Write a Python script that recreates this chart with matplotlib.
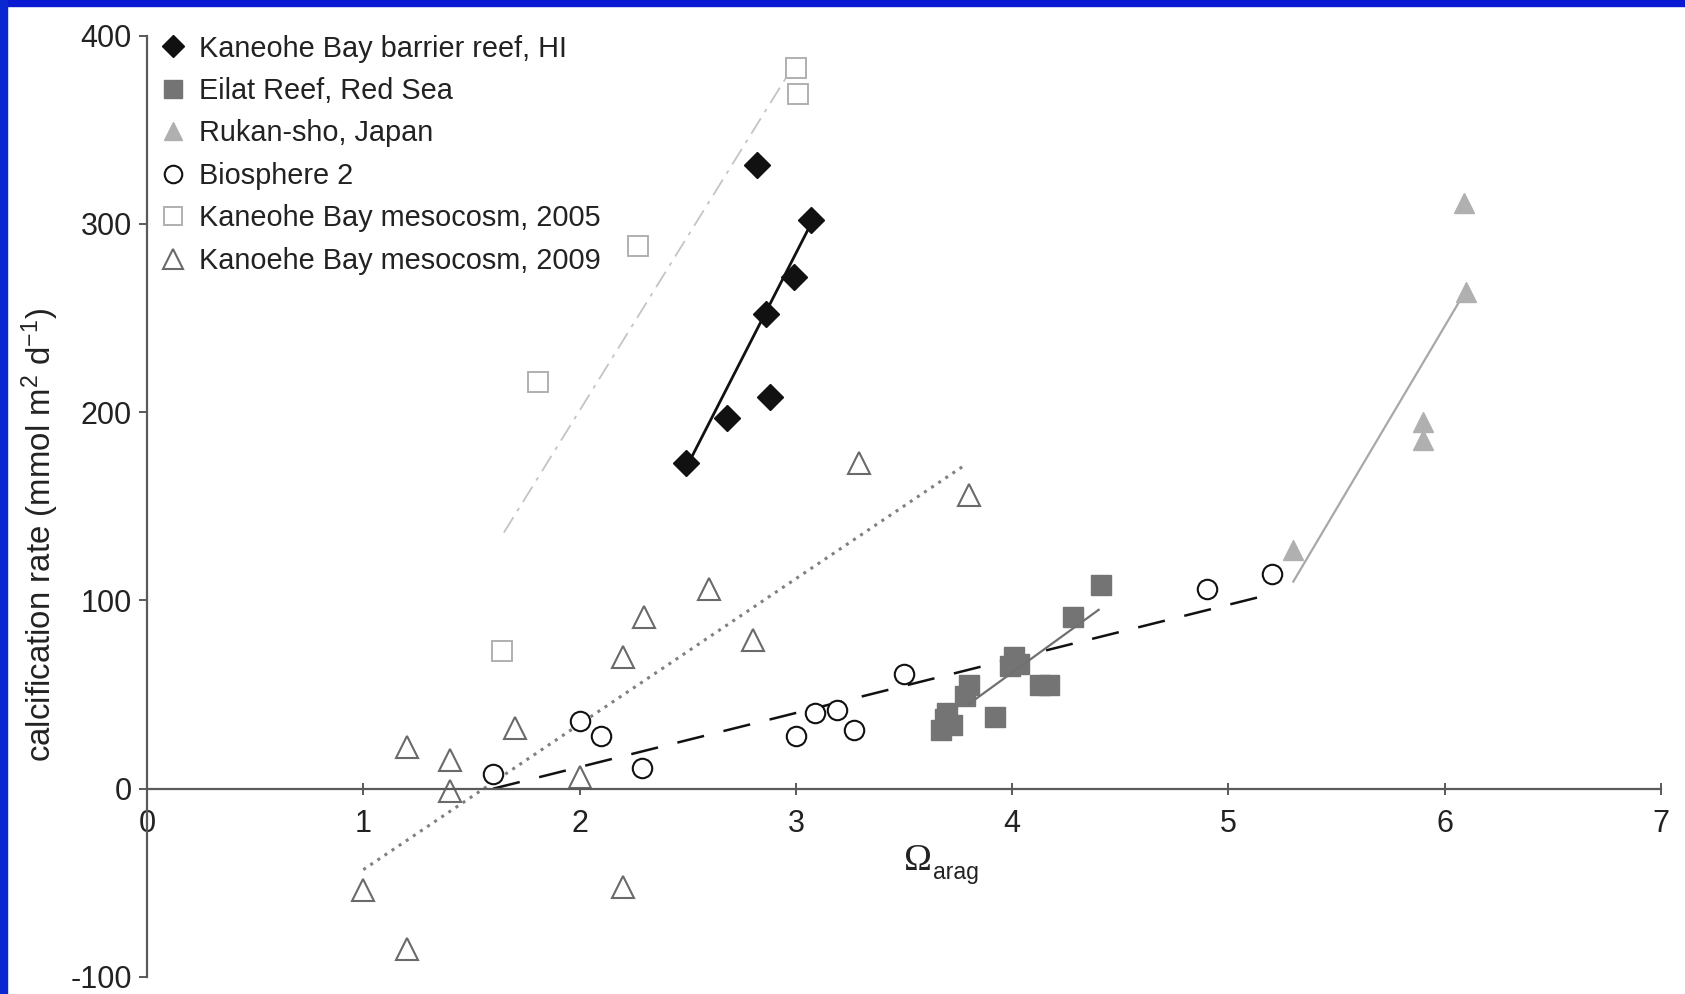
import matplotlib
matplotlib.use("Agg")
import matplotlib.pyplot as plt
from matplotlib.patches import Rectangle

plt.rcParams['font.family'] = ['Liberation Sans', 'DejaVu Sans']
plt.rcParams['mathtext.fontset'] = 'custom'
plt.rcParams['mathtext.rm'] = 'Liberation Sans'
plt.rcParams['mathtext.it'] = 'Liberation Sans:italic'
plt.rcParams['axes.unicode_minus'] = False

# ---- data ----
reef_x = [2.49, 2.68, 2.82, 2.86, 2.88, 2.99, 3.07]
reef_y = [173, 197, 331, 252, 208, 272, 302]
reef_fit_x = [2.50, 3.07]
reef_fit_y = [172, 300]

eilat_x = [3.67, 3.69, 3.70, 3.72, 3.78, 3.80, 3.92, 3.99, 4.01, 4.03, 4.13, 4.17, 4.28, 4.41]
eilat_y = [31, 37, 40, 34, 49, 55, 38, 65, 70, 66, 55, 55, 91, 108]
eilat_fit_x = [3.80, 4.40]
eilat_fit_y = [45, 95]

rukan_x = [5.30, 5.90, 5.90, 6.09, 6.10]
rukan_y = [127, 195, 185, 311, 264]
rukan_fit_x = [5.30, 6.10]
rukan_fit_y = [110, 265]

bio_x = [1.60, 2.00, 2.10, 2.29, 3.00, 3.09, 3.19, 3.27, 3.50, 4.90, 5.20]
bio_y = [8, 36, 28, 11, 28, 40, 42, 31, 61, 106, 114]
bio_fit_x = [1.60, 5.22]
bio_fit_y = [0, 104]

meso05_x = [1.64, 1.81, 2.27, 3.00, 3.01]
meso05_y = [73, 216, 288, 383, 369]
meso05_fit_x = [1.65, 3.00]
meso05_fit_y = [136, 386]

meso09_x = [1.00, 1.20, 1.20, 1.40, 1.40, 1.70, 2.00, 2.20, 2.20, 2.30, 2.60, 2.80, 3.29, 3.80]
meso09_y = [-54, -85, 22, 15, -1, 32, 6, 70, -52, 91, 106, 79, 173, 156]
meso09_fit_x = [1.00, 3.77]
meso09_fit_y = [-43, 171]

labels = ["Kaneohe Bay barrier reef, HI", "Eilat Reef, Red Sea", "Rukan-sho, Japan",
          "Biosphere 2", "Kaneohe Bay mesocosm, 2005", "Kanoehe Bay mesocosm, 2009"]
xticks = [0, 1, 2, 3, 4, 5, 6, 7]
yticks = [-100, 0, 100, 200, 300, 400]

# ---- figure ----
W, H = 1685, 994
fig = plt.figure(figsize=(W / 100, H / 100), dpi=100)
fig.patch.set_facecolor('white')
left, right, top, bottom = 147, 1661, 35.5, 977
ax = fig.add_axes([left / W, 1 - bottom / H, (right - left) / W, (bottom - top) / H])
ax.set_xlim(0, 7)
ax.set_ylim(-100, 400)
ax.patch.set_alpha(0)

# fit lines
ax.plot(meso05_fit_x, meso05_fit_y, color='#c4c4c4', lw=1.3, ls=(0, (10, 4, 2, 4)), zorder=1)
ax.plot(meso09_fit_x, meso09_fit_y, color='#808080', lw=2.2, ls=(0, (1, 1.8)), zorder=1)
ax.plot(bio_fit_x, bio_fit_y, color='#111111', lw=1.8, ls=(0, (11, 8)), zorder=1)
ax.plot(eilat_fit_x, eilat_fit_y, color='#707070', lw=1.6, zorder=3)
ax.plot(rukan_fit_x, rukan_fit_y, color='#a8a8a8', lw=1.6, zorder=1)
ax.plot(reef_fit_x, reef_fit_y, color='#111111', lw=2.0, zorder=1)

# points
ax.plot(reef_x, reef_y, 'D', ms=13, color='#111111', mec='#111111', ls='none', label=labels[0], zorder=4)
ax.plot(eilat_x, eilat_y, 's', ms=14, color='#747474', mec='#747474', ls='none', label=labels[1], zorder=2)
ax.plot(rukan_x, rukan_y, '^', ms=14, color='#b0b0b0', mec='#b0b0b0', ls='none', label=labels[2], zorder=2)
ax.plot(bio_x, bio_y, 'o', ms=14, mfc='white', mec='#111111', mew=1.5, ls='none', label=labels[3], zorder=2)
ax.plot(meso05_x, meso05_y, 's', ms=14, mfc='white', mec='#b0b0b0', mew=1.4, ls='none', label=labels[4], zorder=2)
ax.plot(meso09_x, meso09_y, '^', ms=16, mfc='white', mec='#6a6a6a', mew=1.5, ls='none', label=labels[5], zorder=2)

# spines
for s in ['top', 'right']:
    ax.spines[s].set_visible(False)
ax.spines['bottom'].set_position(('data', 0))
ax.spines['left'].set_position(('data', 0))
for s in ['bottom', 'left']:
    ax.spines[s].set_color('#5a5a5a')
    ax.spines[s].set_linewidth(1.6)
ax.set_xticks(xticks)
ax.set_yticks(yticks)
ax.tick_params(axis='x', direction='inout', length=9, width=1.4, color='#5a5a5a',
               labelsize=22, pad=10, labelcolor='#222222')
ax.tick_params(axis='y', direction='out', length=6, width=1.4, color='#5a5a5a',
               labelsize=22, pad=5, labelcolor='#222222')

ax.set_ylabel(r'calcification rate (mmol m$^{2}$ d$^{-1}$)', fontsize=23.8, color='#222222')
ax.yaxis.set_label_coords(-0.057, 0.469)

# x label: serif Omega with sans subscript
ax.text(3.565, -43, 'Ω', family='Liberation Serif', fontsize=27, ha='center', va='baseline', color='#222222')
ax.text(3.632, -48, 'arag', fontsize=16.5, ha='left', va='baseline', color='#222222')

leg = ax.legend(loc='upper left', bbox_to_anchor=(0.0075, 1.001), frameon=False, fontsize=20.8,
                handlelength=1.0, handletextpad=0.42, labelspacing=0.5, borderpad=0,
                borderaxespad=0, markerscale=0.9)
for t in leg.get_texts():
    t.set_color('#222222')

# blue frame on top and left
fig.patches.append(Rectangle((0, 1 - 6 / H), 1, 6 / H, transform=fig.transFigure, color='#0a1ad2', zorder=10))
fig.patches.append(Rectangle((0, 0), 7 / W, 1, transform=fig.transFigure, color='#0a28d0', zorder=10))

fig.savefig('out.png', dpi=100, facecolor='white')
